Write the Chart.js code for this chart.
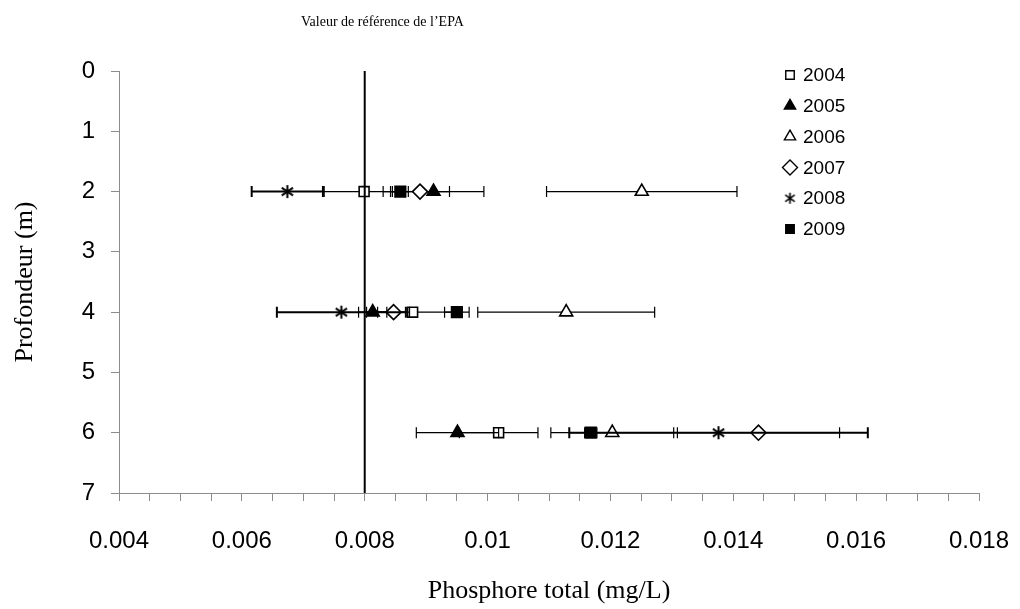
<!DOCTYPE html>
<html lang="fr">
<head>
<meta charset="UTF-8">
<title>Phosphore total selon la profondeur</title>
<script src="https://cdn.jsdelivr.net/npm/chart.js"></script>
<style>
  body { margin: 0; background: #ffffff; }
  #wrap { width: 1020px; height: 609px; }
</style>
</head>
<body>
<div id="wrap"><canvas id="chart" width="1020" height="609"></canvas></div>
<script>
// Profondeurs échantillonnées (m)
const depths = [2, 4, 6];
const years = ['2004', '2005', '2006', '2007', '2008', '2009'];

// Phosphore total (mg/L) aux profondeurs 2, 4 et 6 m
const p2004 = [0.00799, 0.00878, 0.01018];
const p2005 = [0.00912, 0.00813, 0.00951];
const p2006 = [0.01251, 0.01128, 0.01203];
const p2007 = [0.00890, 0.00847, 0.01441];
const p2008 = [0.00674, 0.00762, 0.01376];
const p2009 = [0.00858, 0.00950, 0.01168];

// Barres d'erreur (+/-)
const e2004 = [0.00065, 0.00075, 0.00064];
const e2005 = [0.00082, 0.00023, 0.00067];
const e2006 = [0.00155, 0.00144, 0.00100];
const e2007 = [0.00048, 0.00026, 0.00132];
const e2008 = [0.00058, 0.00105, 0.00243];
const e2009 = [0.00013, 0.00020, 0.00010];

const epaValue = 0.008;
const xTickLabels = ['0.004', '0.006', '0.008', '0.01', '0.012', '0.014', '0.016', '0.018'];
const yTickLabels = ['0', '1', '2', '3', '4', '5', '6', '7'];

const sansFont = "'Liberation Sans', Arial, sans-serif";
const serifFont = "'Liberation Serif', 'Times New Roman', serif";

// asterisk marker for 2008
function makeAsterisk(size, lw) {
    const c = document.createElement('canvas');
    c.width = size; c.height = size;
    const g = c.getContext('2d');
    const m = size / 2, r = size / 2 - 1;
    g.strokeStyle = '#000';
    g.lineWidth = lw;
    g.beginPath();
    g.moveTo(m, m - r); g.lineTo(m, m + r);
    g.moveTo(m - r * 0.87, m - r * 0.6); g.lineTo(m + r * 0.87, m + r * 0.6);
    g.moveTo(m - r * 0.87, m + r * 0.6); g.lineTo(m + r * 0.87, m - r * 0.6);
    g.stroke();
    return c;
}
const starBig = makeAsterisk(15, 2);
const starSmall = makeAsterisk(13, 1.6);

function toPoints(vals) {
    return depths.map((d, i) => ({ x: vals[i], y: d }));
}

const series = [p2004, p2005, p2006, p2007, p2008, p2009];
const errors = [e2004, e2005, e2006, e2007, e2008, e2009];
const styles = [
    { pointStyle: 'rect', radius: 7, bg: '#fff', legendRadius: 6 },
    { pointStyle: 'triangle', radius: 7.5, bg: '#000', legendRadius: 6.5 },
    { pointStyle: 'triangle', radius: 7.5, bg: '#fff', legendRadius: 6.5 },
    { pointStyle: 'rectRot', radius: 7.5, bg: '#fff', legendRadius: 7.5 },
    { pointStyle: starBig, radius: 7, bg: '#000', legendStyle: starSmall, errWidth: 2 },
    { pointStyle: 'rect', radius: 7.5, bg: '#000', legendRadius: 6 }
];

const datasets = years.map((y, i) => ({
    label: y,
    data: toPoints(series[i]),
    errors: errors[i],
    errWidth: styles[i].errWidth || 1.2,
    pointStyle: styles[i].pointStyle,
    pointRadius: styles[i].radius,
    backgroundColor: styles[i].bg,
    borderColor: '#000',
    borderWidth: 1.6,
    showLine: false,
    order: years.length - i
}));

// error bars, drawn just before each series' markers
const errorBarsPlugin = {
    id: 'errorBars',
    beforeDatasetDraw(chart, args) {
        const ds = chart.data.datasets[args.index];
        const xs = chart.scales.x, ys = chart.scales.y;
        const ctx = chart.ctx;
        ctx.save();
        ctx.strokeStyle = '#000';
        ctx.lineWidth = ds.errWidth;
        ds.data.forEach((p, i) => {
            const e = ds.errors[i];
            const x0 = xs.getPixelForValue(p.x - e);
            const x1 = xs.getPixelForValue(p.x + e);
            const py = ys.getPixelForValue(p.y);
            ctx.beginPath();
            ctx.moveTo(x0, py); ctx.lineTo(x1, py);
            ctx.moveTo(x0, py - 5.5); ctx.lineTo(x0, py + 5.5);
            ctx.moveTo(x1, py - 5.5); ctx.lineTo(x1, py + 5.5);
            ctx.stroke();
        });
        ctx.restore();
    }
};

// EPA reference line + its caption + legend
const decorPlugin = {
    id: 'decor',
    afterDatasetsDraw(chart) {
        const xs = chart.scales.x, ys = chart.scales.y;
        const ctx = chart.ctx;
        const px = xs.getPixelForValue(epaValue);
        ctx.save();
        ctx.strokeStyle = '#000';
        ctx.lineWidth = 2;
        ctx.beginPath();
        ctx.moveTo(px, ys.getPixelForValue(0));
        ctx.lineTo(px, ys.getPixelForValue(7));
        ctx.stroke();
        ctx.restore();
    },
    afterDraw(chart) {
        const ctx = chart.ctx;
        ctx.save();
        ctx.fillStyle = '#000';
        ctx.font = '14px ' + serifFont;
        ctx.textBaseline = 'middle';
        ctx.textAlign = 'left';
        ctx.fillText('Valeur de référence de l\u2019EPA', 301, 22);

        // legend
        ctx.font = '19px ' + sansFont;
        chart.data.datasets.forEach((ds, i) => {
            const y = 75 + i * 30.8;
            const st = styles[i];
            const opts = {
                pointStyle: st.legendStyle || st.pointStyle,
                radius: st.legendRadius || st.radius,
                rotation: 0,
                borderWidth: 1.4
            };
            ctx.fillStyle = st.bg;
            ctx.strokeStyle = '#000';
            ctx.lineWidth = 1.4;
            Chart.helpers.drawPoint(ctx, opts, 790, y);
            ctx.fillStyle = '#000';
            ctx.fillText(ds.label, 803, y + 1);
        });
        ctx.restore();
    }
};

const ctx = document.getElementById('chart').getContext('2d');
new Chart(ctx, {
    type: 'scatter',
    data: { datasets: datasets },
    options: {
        responsive: false,
        animation: false,
        events: [],
        layout: { padding: { top: 71, right: 41, left: 0, bottom: 0 } },
        plugins: {
            legend: { display: false },
            tooltip: { enabled: false },
            title: { display: false }
        },
        scales: {
            x: {
                type: 'linear',
                min: 0.004,
                max: 0.018,
                afterFit(scale) {
                    scale.height = 116;
                    scale.paddingLeft = 0;
                    scale.paddingRight = 0;
                },
                border: { color: '#8c8c8c', width: 1 },
                grid: { drawOnChartArea: false, tickLength: 8, tickColor: '#8c8c8c' },
                ticks: {
                    stepSize: 0.0005,
                    autoSkip: false,
                    maxRotation: 0,
                    padding: 26,
                    color: '#000',
                    font: { family: sansFont, size: 24 },
                    callback(v) {
                        const k = (v - 0.004) / 0.002;
                        const r = Math.round(k);
                        return Math.abs(k - r) < 1e-6 ? xTickLabels[r] : '';
                    }
                },
                title: {
                    display: true,
                    text: 'Phosphore total (mg/L)',
                    color: '#000',
                    font: { family: serifFont, size: 26 },
                    padding: { top: 0, bottom: 2 }
                }
            },
            y: {
                type: 'linear',
                reverse: true,
                min: 0,
                max: 7,
                afterFit(scale) {
                    scale.width = 119;
                    scale.paddingTop = 0;
                    scale.paddingBottom = 0;
                },
                border: { color: '#8c8c8c', width: 1 },
                grid: { drawOnChartArea: false, tickLength: 8, tickColor: '#8c8c8c' },
                ticks: {
                    stepSize: 1,
                    padding: 16,
                    color: '#000',
                    font: { family: sansFont, size: 24 },
                    callback(v) { return yTickLabels[v]; }
                },
                title: {
                    display: true,
                    text: 'Profondeur (m)',
                    color: '#000',
                    font: { family: serifFont, size: 26 },
                    padding: { top: 10, bottom: 0 }
                }
            }
        }
    },
    plugins: [errorBarsPlugin, decorPlugin]
});
</script>
</body>
</html>
